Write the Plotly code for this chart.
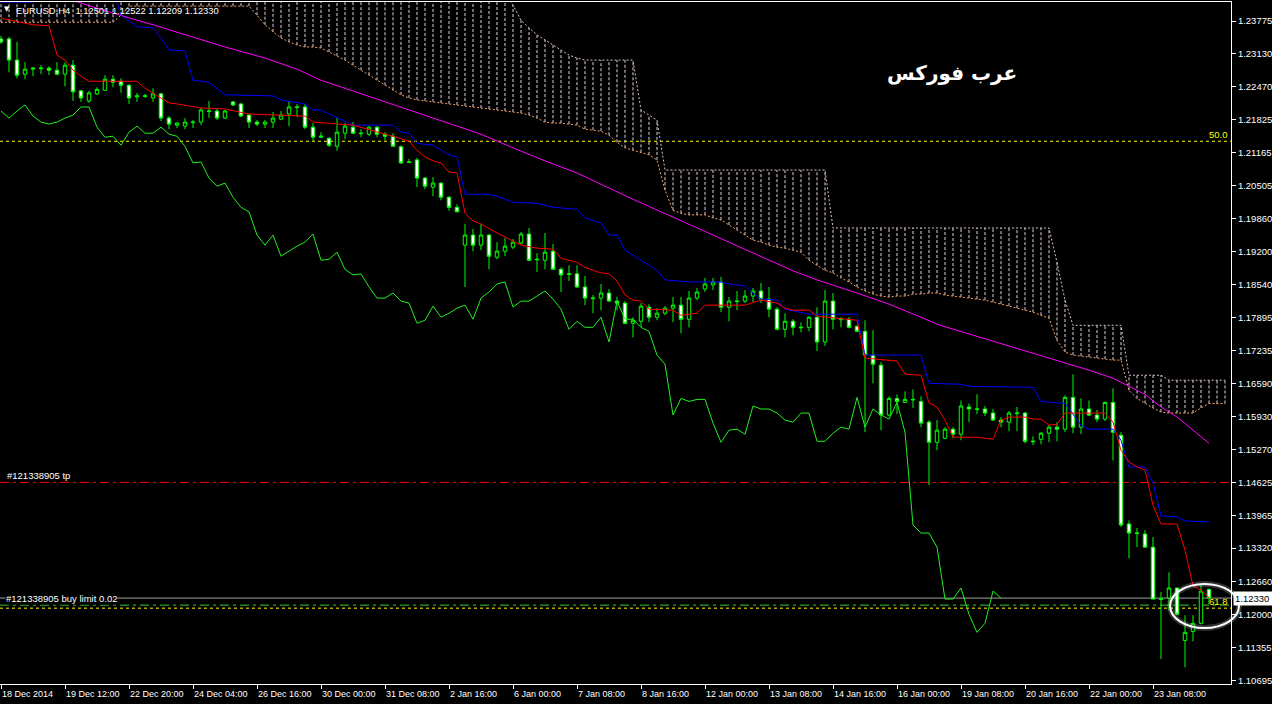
import plotly.graph_objects as go

# ---------------- data (EURUSD H4) ----------------
opens = [1.2342, 1.2342, 1.2300, 1.2272, 1.2282, 1.2283, 1.2284, 1.2280, 1.2272, 1.2290,
 1.2239, 1.2219, 1.2233, 1.2240, 1.2262, 1.2258, 1.2250, 1.2227, 1.2228, 1.2225,
 1.2233, 1.2185, 1.2171, 1.2169, 1.2176, 1.2177, 1.2198, 1.2199, 1.2185, 1.2217,
 1.2213, 1.2191, 1.2177, 1.2173, 1.2177, 1.2183, 1.2193, 1.2206, 1.2207, 1.2167,
 1.2147, 1.2145, 1.2129, 1.2155, 1.2167, 1.2154, 1.2153, 1.2167, 1.2153, 1.2149,
 1.2128, 1.2097, 1.2102, 1.2066, 1.2048, 1.2056, 1.2028, 1.2008, 1.1933, 1.1953,
 1.1933, 1.1953, 1.1909, 1.1921, 1.1929, 1.1937, 1.1955, 1.1904, 1.1903, 1.1921,
 1.1885, 1.1875, 1.1876, 1.1850, 1.1827, 1.1828, 1.1838, 1.1822, 1.1818, 1.1778,
 1.1782, 1.1810, 1.1790, 1.1798, 1.1808, 1.1814, 1.1786, 1.1828, 1.1846, 1.1854,
 1.1860, 1.1810, 1.1821, 1.1822, 1.1832, 1.1842, 1.1826, 1.1806, 1.1766, 1.1782,
 1.1769, 1.1770, 1.1790, 1.1741, 1.1822, 1.1785, 1.1786, 1.1772, 1.1762, 1.1715,
 1.1695, 1.1596, 1.1629, 1.1621, 1.1626, 1.1623, 1.1582, 1.1542, 1.1550, 1.1568,
 1.1558, 1.1612, 1.1607, 1.1608, 1.1600, 1.1586, 1.1582, 1.1599, 1.1600, 1.1543,
 1.1548, 1.1560, 1.1572, 1.1568, 1.1631, 1.1572, 1.1608, 1.1596, 1.1588, 1.1621,
 1.1556, 1.1380, 1.1361, 1.1360, 1.1334, 1.1230, 1.1233, 1.1253, 1.1149, 1.1167,
 1.1183, 1.12501]
highs = [1.2348, 1.2346, 1.2336, 1.2296, 1.2286, 1.2290, 1.2288, 1.2296, 1.2296, 1.2300,
 1.2240, 1.2239, 1.2246, 1.2270, 1.2270, 1.2264, 1.2252, 1.2235, 1.2233, 1.2244,
 1.2235, 1.2189, 1.2177, 1.2185, 1.2181, 1.2205, 1.2219, 1.2205, 1.2201, 1.2219,
 1.2215, 1.2193, 1.2181, 1.2181, 1.2197, 1.2199, 1.2219, 1.2213, 1.2213, 1.2175,
 1.2157, 1.2147, 1.2185, 1.2175, 1.2177, 1.2163, 1.2169, 1.2169, 1.2157, 1.2155,
 1.2131, 1.2104, 1.2106, 1.2068, 1.2068, 1.2058, 1.2030, 1.2014, 1.1975, 1.1965,
 1.1975, 1.1955, 1.1939, 1.1947, 1.1945, 1.1959, 1.1967, 1.1917, 1.1957, 1.1935,
 1.1889, 1.1893, 1.1893, 1.1872, 1.1834, 1.1856, 1.1846, 1.1830, 1.1822, 1.1790,
 1.1818, 1.1816, 1.1808, 1.1812, 1.1830, 1.1830, 1.1842, 1.1848, 1.1868, 1.1868,
 1.1870, 1.1830, 1.1842, 1.1844, 1.1848, 1.1858, 1.1850, 1.1810, 1.1798, 1.1786,
 1.1780, 1.1792, 1.1810, 1.1844, 1.1838, 1.1790, 1.1790, 1.1774, 1.1784, 1.1764,
 1.1701, 1.1633, 1.1637, 1.1643, 1.1647, 1.1633, 1.1586, 1.1586, 1.1572, 1.1572,
 1.1625, 1.1619, 1.1637, 1.1614, 1.1608, 1.1592, 1.1604, 1.1612, 1.1602, 1.1554,
 1.1562, 1.1576, 1.1582, 1.1635, 1.1677, 1.1629, 1.1625, 1.1606, 1.1623, 1.1649,
 1.1562, 1.1387, 1.1372, 1.1368, 1.1354, 1.1245, 1.1284, 1.1253, 1.1199, 1.1199,
 1.1260, 1.12522]
lows = [1.2332, 1.2276, 1.2264, 1.2262, 1.2268, 1.2272, 1.2270, 1.2270, 1.2248, 1.2219,
 1.2217, 1.2215, 1.2231, 1.2240, 1.2246, 1.2235, 1.2213, 1.2217, 1.2225, 1.2217,
 1.2179, 1.2163, 1.2165, 1.2163, 1.2165, 1.2171, 1.2185, 1.2181, 1.2183, 1.2209,
 1.2187, 1.2165, 1.2169, 1.2165, 1.2165, 1.2181, 1.2169, 1.2187, 1.2163, 1.2139,
 1.2145, 1.2128, 1.2120, 1.2143, 1.2153, 1.2147, 1.2149, 1.2147, 1.2141, 1.2128,
 1.2094, 1.2096, 1.2048, 1.2044, 1.2030, 1.2022, 1.2001, 1.1999, 1.1850, 1.1921,
 1.1923, 1.1885, 1.1905, 1.1911, 1.1925, 1.1935, 1.1901, 1.1880, 1.1885, 1.1885,
 1.1840, 1.1862, 1.1848, 1.1814, 1.1798, 1.1804, 1.1820, 1.1804, 1.1776, 1.1750,
 1.1770, 1.1780, 1.1784, 1.1794, 1.1780, 1.1758, 1.1770, 1.1824, 1.1840, 1.1844,
 1.1800, 1.1782, 1.1804, 1.1818, 1.1820, 1.1818, 1.1790, 1.1764, 1.1750, 1.1754,
 1.1760, 1.1762, 1.1723, 1.1733, 1.1766, 1.1770, 1.1768, 1.1762, 1.1562, 1.1659,
 1.1566, 1.1594, 1.1598, 1.1621, 1.1610, 1.1572, 1.1457, 1.1526, 1.1548, 1.1550,
 1.1546, 1.1582, 1.1598, 1.1594, 1.1584, 1.1572, 1.1564, 1.1564, 1.1540, 1.1536,
 1.1538, 1.1542, 1.1544, 1.1562, 1.1560, 1.1558, 1.1594, 1.1582, 1.1584, 1.1506,
 1.1374, 1.1312, 1.1334, 1.1334, 1.1231, 1.1112, 1.1209, 1.1199, 1.1096, 1.1147,
 1.1181, 1.12209]
closes = [1.2336, 1.2300, 1.2270, 1.2282, 1.2284, 1.2284, 1.2280, 1.2272, 1.2290, 1.2237,
 1.2225, 1.2235, 1.2242, 1.2262, 1.2256, 1.2250, 1.2225, 1.2229, 1.2229, 1.2233,
 1.2185, 1.2173, 1.2175, 1.2177, 1.2177, 1.2201, 1.2199, 1.2185, 1.2199, 1.2211,
 1.2189, 1.2177, 1.2173, 1.2177, 1.2185, 1.2191, 1.2207, 1.2207, 1.2167, 1.2147,
 1.2149, 1.2131, 1.2157, 1.2169, 1.2155, 1.2155, 1.2167, 1.2153, 1.2149, 1.2129,
 1.2096, 1.2098, 1.2066, 1.2050, 1.2056, 1.2028, 1.2008, 1.1999, 1.1953, 1.1933,
 1.1953, 1.1911, 1.1921, 1.1931, 1.1939, 1.1955, 1.1903, 1.1905, 1.1919, 1.1885,
 1.1874, 1.1876, 1.1850, 1.1828, 1.1828, 1.1838, 1.1822, 1.1818, 1.1778, 1.1784,
 1.1812, 1.1790, 1.1798, 1.1808, 1.1814, 1.1786, 1.1828, 1.1840, 1.1856, 1.1860,
 1.1810, 1.1822, 1.1822, 1.1832, 1.1842, 1.1826, 1.1806, 1.1766, 1.1782, 1.1770,
 1.1770, 1.1790, 1.1741, 1.1822, 1.1786, 1.1786, 1.1770, 1.1762, 1.1715, 1.1697,
 1.1596, 1.1629, 1.1623, 1.1627, 1.1627, 1.1580, 1.1542, 1.1566, 1.1568, 1.1558,
 1.1614, 1.1608, 1.1608, 1.1600, 1.1586, 1.1582, 1.1600, 1.1600, 1.1544, 1.1544,
 1.1560, 1.1572, 1.1568, 1.1631, 1.1572, 1.1608, 1.1596, 1.1588, 1.1621, 1.1562,
 1.1378, 1.1362, 1.1362, 1.1334, 1.1231, 1.1231, 1.1253, 1.1201, 1.1165, 1.1183,
 1.1247, 1.12330]
bars = list(range(len(closes)))

# Ichimoku Tenkan-sen (red), vertices (bar, price)
tenkan_bar = [0, 4, 6, 7, 8, 9, 10, 11, 17, 18, 21, 22, 25, 28, 31, 36, 38, 39, 44, 48,
 49, 51, 52, 53, 54, 55, 56, 57, 58, 59, 60, 62, 63, 65, 67, 69, 70, 72, 73, 75,
 76, 77, 78, 79, 80, 81, 84, 85, 87, 88, 93, 95, 97, 98, 99, 101, 102, 107, 108, 112,
 113, 115, 116, 117, 118, 119, 122, 124, 125, 126, 128, 129, 130, 131, 132, 133, 138, 139, 140, 141,
 142, 143, 144, 145, 147, 148, 149, 150, 151]
tenkan_val = [1.2383, 1.2370, 1.2368, 1.2310, 1.2300, 1.2280, 1.2268, 1.2258, 1.2258, 1.2244,
 1.2215, 1.2213, 1.2205, 1.2203, 1.2193, 1.2191, 1.2189, 1.2177, 1.2171, 1.2153,
 1.2149, 1.2139, 1.2121, 1.2108, 1.2100, 1.2096, 1.2078, 1.2076, 1.1996, 1.1981,
 1.1975, 1.1957, 1.1949, 1.1933, 1.1927, 1.1925, 1.1907, 1.1899, 1.1889, 1.1878,
 1.1876, 1.1862, 1.1834, 1.1824, 1.1822, 1.1806, 1.1804, 1.1794, 1.1798, 1.1814,
 1.1814, 1.1824, 1.1818, 1.1808, 1.1804, 1.1804, 1.1792, 1.1784, 1.1709, 1.1703,
 1.1677, 1.1675, 1.1620, 1.1612, 1.1586, 1.1552, 1.1552, 1.1548, 1.1586, 1.1592,
 1.1592, 1.1588, 1.1588, 1.1576, 1.1578, 1.1600, 1.1600, 1.1582, 1.1526, 1.1503,
 1.1493, 1.1487, 1.1417, 1.1380, 1.1380, 1.1328, 1.1257, 1.1249, 1.1233]

# Kijun-sen (blue)
kijun_bar = [0, 4, 5, 14, 15, 17, 19, 20, 21, 23, 24, 26, 28, 34, 35, 38, 39, 40, 41, 44,
 49, 50, 51, 52, 54, 55, 56, 57, 58, 61, 62, 64, 67, 69, 72, 73, 75, 76, 77, 78,
 79, 82, 83, 86, 90, 91, 93, 94, 95, 97, 98, 101, 107, 108, 115, 116, 120, 121, 129, 130,
 133, 135, 136, 139, 140, 141, 143, 144, 145, 147, 148, 151]
kijun_val = [1.2415, 1.2415, 1.2439, 1.2439, 1.2389, 1.2366, 1.2364, 1.2344, 1.2320, 1.2318,
 1.2260, 1.2256, 1.2231, 1.2229, 1.2221, 1.2213, 1.2201, 1.2201, 1.2193, 1.2171,
 1.2171, 1.2157, 1.2155, 1.2135, 1.2131, 1.2121, 1.2112, 1.2108, 1.2034, 1.2034,
 1.2030, 1.2018, 1.2016, 1.2008, 1.2004, 1.1987, 1.1977, 1.1953, 1.1953, 1.1923,
 1.1913, 1.1883, 1.1864, 1.1860, 1.1860, 1.1856, 1.1852, 1.1838, 1.1826, 1.1824,
 1.1806, 1.1796, 1.1796, 1.1715, 1.1715, 1.1659, 1.1657, 1.1653, 1.1651, 1.1623,
 1.1619, 1.1576, 1.1568, 1.1568, 1.1546, 1.1493, 1.1493, 1.1461, 1.1396, 1.1394,
 1.1386, 1.1384]

# Moving average (magenta)
ma_bar = [0, 14, 19, 23, 28, 33, 37, 40, 51, 55, 60, 64, 68, 72, 76, 79, 99, 102, 107, 111,
 115, 117, 136, 139, 143, 145, 147, 149, 151]
ma_val = [1.2463, 1.2393, 1.2370, 1.2350, 1.2326, 1.2304, 1.2282, 1.2260, 1.2201, 1.2181,
 1.2153, 1.2126, 1.2100, 1.2076, 1.2046, 1.2024, 1.1882, 1.1864, 1.1838, 1.1816,
 1.1790, 1.1776, 1.1685, 1.1669, 1.1637, 1.1612, 1.1592, 1.1566, 1.1540]

# Senkou span A / B, one value per bar 0..153 (cloud shifted forward)
span_a = [1.2375, 1.2375, 1.2375, 1.2375, 1.2375, 1.2375, 1.2375, 1.2375, 1.2375, 1.2375,
 1.2375, 1.2375, 1.2375, 1.2375, 1.2375, 1.2389, 1.2407, 1.2407, 1.2407, 1.2407,
 1.2407, 1.2407, 1.2407, 1.2407, 1.2407, 1.2407, 1.2407, 1.2407, 1.2407, 1.2407,
 1.2407, 1.2407, 1.2389, 1.2370, 1.2356, 1.2344, 1.2336, 1.2330, 1.2326, 1.2326,
 1.2324, 1.2316, 1.2308, 1.2300, 1.2290, 1.2280, 1.2270, 1.2260, 1.2250, 1.2240,
 1.2231, 1.2225, 1.2221, 1.2219, 1.2217, 1.2215, 1.2213, 1.2211, 1.2209, 1.2207,
 1.2205, 1.2203, 1.2201, 1.2199, 1.2197, 1.2195, 1.2191, 1.2185, 1.2177, 1.2175,
 1.2175, 1.2173, 1.2171, 1.2163, 1.2161, 1.2159, 1.2151, 1.2137, 1.2126, 1.2121,
 1.2117, 1.2112, 1.2102, 1.2042, 1.2002, 1.1996, 1.1993, 1.1993, 1.1993, 1.1987,
 1.1983, 1.1973, 1.1963, 1.1953, 1.1943, 1.1939, 1.1933, 1.1929, 1.1927, 1.1923,
 1.1919, 1.1903, 1.1893, 1.1883, 1.1878, 1.1868, 1.1860, 1.1850, 1.1842, 1.1836,
 1.1832, 1.1830, 1.1832, 1.1832, 1.1836, 1.1836, 1.1838, 1.1838, 1.1834, 1.1832,
 1.1830, 1.1828, 1.1826, 1.1824, 1.1820, 1.1816, 1.1812, 1.1808, 1.1804, 1.1800,
 1.1794, 1.1788, 1.1744, 1.1721, 1.1715, 1.1713, 1.1711, 1.1709, 1.1707, 1.1705,
 1.1705, 1.1645, 1.1629, 1.1619, 1.1610, 1.1602, 1.1600, 1.1600, 1.1600, 1.1600,
 1.1610, 1.1619, 1.1619, 1.1619]
span_b = [1.2439, 1.2439, 1.2439, 1.2439, 1.2439, 1.2439, 1.2439, 1.2439, 1.2439, 1.2439,
 1.2439, 1.2439, 1.2439, 1.2439, 1.2439, 1.2439, 1.2439, 1.2439, 1.2439, 1.2439,
 1.2439, 1.2439, 1.2439, 1.2439, 1.2439, 1.2439, 1.2439, 1.2439, 1.2439, 1.2439,
 1.2439, 1.2439, 1.2439, 1.2439, 1.2439, 1.2439, 1.2439, 1.2439, 1.2439, 1.2439,
 1.2439, 1.2439, 1.2439, 1.2439, 1.2439, 1.2439, 1.2439, 1.2439, 1.2439, 1.2439,
 1.2439, 1.2439, 1.2439, 1.2439, 1.2439, 1.2439, 1.2439, 1.2439, 1.2439, 1.2439,
 1.2439, 1.2439, 1.2439, 1.2439, 1.2409, 1.2379, 1.2364, 1.2350, 1.2340, 1.2330,
 1.2320, 1.2310, 1.2304, 1.2300, 1.2300, 1.2300, 1.2300, 1.2300, 1.2300, 1.2300,
 1.2201, 1.2191, 1.2181, 1.2082, 1.2082, 1.2082, 1.2082, 1.2082, 1.2082, 1.2082,
 1.2082, 1.2082, 1.2082, 1.2082, 1.2082, 1.2082, 1.2082, 1.2082, 1.2082, 1.2082,
 1.2082, 1.2082, 1.2082, 1.2082, 1.1967, 1.1967, 1.1967, 1.1967, 1.1967, 1.1967,
 1.1967, 1.1967, 1.1967, 1.1967, 1.1967, 1.1967, 1.1967, 1.1967, 1.1967, 1.1967,
 1.1967, 1.1967, 1.1967, 1.1967, 1.1967, 1.1967, 1.1967, 1.1967, 1.1967, 1.1967,
 1.1967, 1.1967, 1.1899, 1.1824, 1.1774, 1.1774, 1.1774, 1.1774, 1.1774, 1.1774,
 1.1774, 1.1675, 1.1675, 1.1675, 1.1675, 1.1675, 1.1665, 1.1665, 1.1665, 1.1665,
 1.1665, 1.1665, 1.1665, 1.1665]
chikou_shift = 26

# Levels / objects
fib_50 = 1.2139
fib_618 = 1.1213
tp_price = 1.14625
order_price = 1.1219
bid_price = 1.12330

# Axis ticks
ytick_vals = [1.23775, 1.23130, 1.22470, 1.21825, 1.21165, 1.20505, 1.19860, 1.19200,
 1.18540, 1.17895, 1.17235, 1.16590, 1.15930, 1.15270, 1.14625, 1.13965, 1.13320,
 1.12660, 1.12000, 1.11355, 1.10695]
ytick_text = ["%.5f" % v for v in ytick_vals]
xtick_bars = [0, 8, 16, 24, 32, 40, 48, 56, 64, 72, 80, 88, 96, 104, 112, 120, 128, 136, 144]
xtick_labels = ["18 Dec 2014", "19 Dec 12:00", "22 Dec 20:00", "24 Dec 04:00", "26 Dec 16:00",
 "30 Dec 00:00", "31 Dec 08:00", "2 Jan 16:00", "6 Jan 00:00", "7 Jan 08:00", "8 Jan 16:00",
 "12 Jan 00:00", "13 Jan 08:00", "14 Jan 16:00", "16 Jan 00:00", "19 Jan 08:00",
 "20 Jan 16:00", "22 Jan 00:00", "23 Jan 08:00"]

title_text = "EURUSD,H4\u00a0\u00a01.12501\u00a01.12522\u00a01.12209\u00a01.12330"
brand_text = "عرب فوركس"

# ---------------- figure ----------------
X_RANGE = [-0.125, 153.75]
Y_RANGE = [1.10626, 1.24152]
FONT = "Liberation Sans"
GREEN = "#00FF00"

fig = go.Figure()

# cloud hatch (vertical dotted lines between spans)
hx, hy = [], []
for i, (a, b) in enumerate(zip(span_a, span_b)):
    hx += [i, i, None]
    hy += [a, b, None]
fig.add_trace(go.Scatter(x=hx, y=hy, mode="lines", hoverinfo="skip",
                         line=dict(color="#E6D2E6", width=1, dash="3px,2px")))
cloud_x = list(range(len(span_a)))
fig.add_trace(go.Scatter(x=cloud_x, y=span_b, mode="lines", hoverinfo="skip",
                         line=dict(color="#D8BFD8", width=1, dash="2px,2px")))
fig.add_trace(go.Scatter(x=cloud_x, y=span_a, mode="lines", hoverinfo="skip",
                         line=dict(color="#F4A460", width=1, dash="2px,2px")))

# moving average, kijun, tenkan, chikou
fig.add_trace(go.Scatter(x=ma_bar, y=ma_val, mode="lines", hoverinfo="skip",
                         line=dict(color="#FF00FF", width=1)))
fig.add_trace(go.Scatter(x=kijun_bar, y=kijun_val, mode="lines", hoverinfo="skip",
                         line=dict(color="#0000FF", width=1)))
fig.add_trace(go.Scatter(x=tenkan_bar, y=tenkan_val, mode="lines", hoverinfo="skip",
                         line=dict(color="#FF0000", width=1)))
fig.add_trace(go.Scatter(x=bars[:len(bars) - chikou_shift], y=closes[chikou_shift:],
                         mode="lines", hoverinfo="skip",
                         line=dict(color="#22EE22", width=1)))

# candles
fig.add_trace(go.Candlestick(
    x=bars, open=opens, high=highs, low=lows, close=closes,
    increasing=dict(line=dict(color=GREEN, width=1), fillcolor="#000000"),
    decreasing=dict(line=dict(color=GREEN, width=1), fillcolor="#FFFFFF"),
    whiskerwidth=0, hoverinfo="skip"))

# horizontal levels
shapes = [
    dict(type="line", xref="paper", x0=0, x1=1, yref="y", y0=fib_50, y1=fib_50,
         line=dict(color="#FFFF00", width=1, dash="3px,3px"), layer="below"),
    dict(type="line", xref="paper", x0=0, x1=1, yref="y", y0=fib_618, y1=fib_618,
         line=dict(color="#FFFF00", width=1, dash="3px,3px"), layer="below"),
    dict(type="line", xref="paper", x0=0, x1=1, yref="y", y0=tp_price, y1=tp_price,
         line=dict(color="#FF0000", width=1, dash="9px,4px,3px,4px"), layer="below"),
    dict(type="line", xref="paper", x0=0, x1=1, yref="y", y0=order_price, y1=order_price,
         line=dict(color="#32CD32", width=1, dash="9px,4px,3px,4px"), layer="below"),
    dict(type="line", xref="paper", x0=0, x1=1, yref="y", y0=bid_price, y1=bid_price,
         line=dict(color="#A0A0A0", width=1), layer="below"),
]
# highlight ellipse around last bars (with soft glow)
ex0, ex1, ey0, ey1 = 0.9505, 1.0065, 0.0821, 0.1466
shapes.append(dict(type="circle", xref="paper", yref="paper", x0=ex0, x1=ex1, y0=ey0, y1=ey1,
                   line=dict(color="rgba(200,200,200,0.25)", width=6)))
shapes.append(dict(type="circle", xref="paper", yref="paper", x0=ex0, x1=ex1, y0=ey0, y1=ey1,
                   line=dict(color="#FFFFFF", width=2)))

annotations = []
# x labels (left aligned at tick, MT4 style)
for b, lab in zip(xtick_bars, xtick_labels):
    annotations.append(dict(x=b, xref="x", y=0, yref="paper", yanchor="top", xanchor="left",
                            xshift=-1, yshift=-3, text=lab, showarrow=False,
                            font=dict(family=FONT, size=9, color="white")))
annotations += [
    dict(x=0, xref="paper", y=1, yref="paper", xanchor="left", yanchor="top", xshift=2, yshift=-1,
         text="▼", showarrow=False, font=dict(family="DejaVu Sans", size=7, color="white")),
    dict(x=0, xref="paper", y=1, yref="paper", xanchor="left", yanchor="top", xshift=14, yshift=-1,
         text=title_text, showarrow=False, font=dict(family=FONT, size=9.4, color="white")),
    dict(x=0, xref="paper", y=tp_price, yref="y", xanchor="left", yanchor="bottom", xshift=5,
         yshift=-1, text="#121338905 tp", showarrow=False,
         font=dict(family=FONT, size=9.5, color="white")),
    dict(x=0, xref="paper", y=bid_price, yref="y", xanchor="left", yanchor="middle", xshift=5,
         text="#121338905 buy limit 0.02", showarrow=False, bgcolor="black", borderpad=0,
         font=dict(family=FONT, size=9.5, color="white")),
    dict(x=1, xref="paper", y=fib_50, yref="y", xanchor="right", yanchor="bottom", xshift=-1,
         yshift=-1, text="50.0", showarrow=False, font=dict(family=FONT, size=9.5, color="#FFFF00")),
    dict(x=1, xref="paper", y=fib_618, yref="y", xanchor="right", yanchor="bottom", xshift=-1,
         yshift=-1, text="61.8", showarrow=False, font=dict(family=FONT, size=9.5, color="#FFFF00")),
    dict(x=1, xref="paper", y=bid_price, yref="y", xanchor="left", yanchor="middle", xshift=2,
         text="1.12330 ", showarrow=False, bgcolor="white", borderpad=1,
         font=dict(family=FONT, size=9.5, color="black")),
    dict(x=0.7734, xref="paper", y=0.8959, yref="paper", xanchor="center", yanchor="middle",
         text="<b>" + brand_text + "</b>", showarrow=False,
         font=dict(family="DejaVu Sans", size=20, color="white")),
]

fig.update_layout(
    width=1272, height=704,
    margin=dict(l=0, r=41, t=2, b=20, autoexpand=False),
    paper_bgcolor="black", plot_bgcolor="black",
    showlegend=False, boxgap=0.38,
    shapes=shapes, annotations=annotations,
    xaxis=dict(range=X_RANGE, rangeslider=dict(visible=False), showgrid=False, zeroline=False,
               showline=True, linecolor="white", linewidth=1, mirror=True,
               tickmode="array", tickvals=xtick_bars, ticktext=[""] * len(xtick_bars),
               ticks="outside", ticklen=4, tickcolor="white", fixedrange=True),
    yaxis=dict(range=Y_RANGE, side="right", showgrid=False, zeroline=False,
               showline=True, linecolor="white", linewidth=1, mirror=True,
               tickmode="array", tickvals=ytick_vals, ticktext=ytick_text,
               ticks="outside", ticklen=4, tickcolor="white",
               tickfont=dict(family=FONT, size=9.5, color="white"), fixedrange=True),
)

fig.write_html("out.html",
               config={"displayModeBar": False},
               post_script="document.body.style.margin='0';"
                           "document.body.style.overflow='hidden';"
                           "document.body.style.background='black';")
